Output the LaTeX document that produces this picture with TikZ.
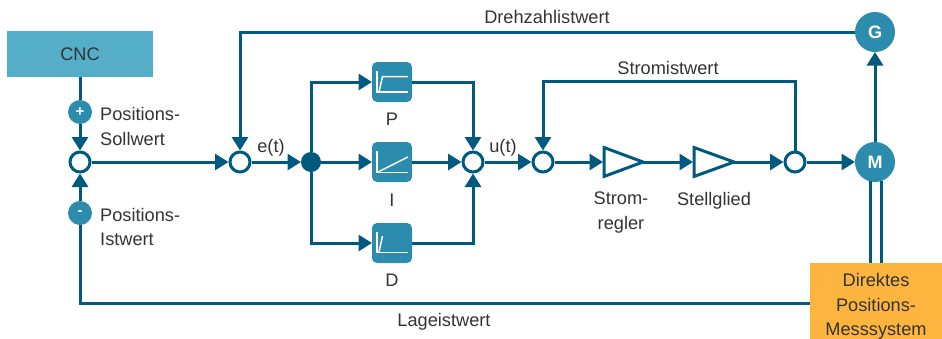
\documentclass[tikz,border=0pt]{standalone}
\usepackage{fontspec}
\setmainfont{Liberation Sans}
\usetikzlibrary{arrows.meta}
\definecolor{dk}{HTML}{005A80}
\definecolor{md}{HTML}{2B8CAE}
\definecolor{cn}{HTML}{54AEC8}
\definecolor{og}{HTML}{FDB53F}
\definecolor{tx}{HTML}{333333}
\tikzset{
  x=1pt,y=-1pt,
  wire/.style={draw=dk,line width=3pt},
  flow/.style={wire,-{Triangle[length=13.5pt,width=16pt]}},
  sumnode/.style={circle,draw=dk,line width=3pt,fill=white,minimum size=20pt,inner sep=0pt},
  dotnode/.style={circle,fill=dk,minimum size=20pt,inner sep=0pt,outer sep=0pt},
  signnode/.style={circle,fill=md,minimum size=24pt,inner sep=0pt,outer sep=0pt,text=white,font=\fontsize{15}{15}\selectfont\bfseries},
  machine/.style={circle,fill=md,minimum size=40pt,inner sep=0pt,outer sep=0pt,text=white,font=\fontsize{18}{18}\selectfont\bfseries},
  pidbox/.style={rectangle,fill=md,rounded corners=5pt,minimum size=40pt,inner sep=0pt,outer sep=0pt},
  lbl/.style={text=tx,inner sep=0pt,font=\fontsize{18.2}{24.5}\selectfont},
  icon/.style={draw=white,line width=1.5pt},
  amp/.style={draw=dk,line width=3pt,fill=white,line join=miter},
}
\begin{document}
\begin{tikzpicture}
\useasboundingbox (0,0) rectangle (942,338);
% nodes
\node[rectangle,fill=cn,minimum width=146pt,minimum height=46pt,inner sep=0pt,outer sep=0pt,lbl] (cnc) at (80,54) {CNC};
\node[signnode] (plus) at (80,112) {+};
\node[sumnode] (s1) at (80,162) {};
\node[signnode] (minus) at (80,213) {-};
\node[sumnode] (s2) at (240,162) {};
\node[dotnode] (dot) at (311,162) {};
\node[pidbox] (P) at (392,82) {};
\node[pidbox] (I) at (392,162) {};
\node[pidbox] (D) at (392,243) {};
\node[sumnode] (s3) at (473,162) {};
\node[sumnode] (s4) at (543,162) {};
\node[sumnode] (s5) at (795,162) {};
\node[machine] (M) at (875,162) {M};
\node[machine] (G) at (875,32) {G};
\node[rectangle,fill=og,minimum width=132pt,minimum height=87pt,inner sep=0pt,outer sep=0pt,lbl,align=center] (og) at (876,306.5) {Direktes\\Positions-\\Messsystem};
% helper coordinates
\coordinate (a1w) at (603,162); \coordinate (a1e) at (643,162);
\coordinate (a2w) at (693,162); \coordinate (a2e) at (734,162);
\coordinate (st5) at (795,81); \coordinate (st4) at (543,81);
\coordinate (lg) at (810,303);
\coordinate (m1) at (870,181); \coordinate (o1) at (870,263);
\coordinate (m2) at (881,181); \coordinate (o2) at (881,263);
% amplifiers
\draw[amp] (604,147.5) -- (a1e) -- (604,176.5) -- cycle;
\draw[amp] (694,147.5) -- (a2e) -- (694,176.5) -- cycle;
% connectors
\draw[wire] (cnc) -- (plus);
\draw[flow] (plus) -- (s1);
\draw[flow] (minus) -- (s1);
\draw[wire] (lg) -| (minus);
\draw[flow] (s1) -- (s2);
\draw[flow] (G) -| (s2);
\draw[flow] (s2) -- (dot);
\draw[flow] (dot) |- (P);
\draw[flow] (dot) -- (I);
\draw[flow] (dot) |- (D);
\draw[flow] (P) -| (s3);
\draw[flow] (I) -- (s3);
\draw[flow] (D) -| (s3);
\draw[flow] (s3) -- (s4);
\draw[flow] (s4) -- (a1w);
\draw[flow] (a1e) -- (a2w);
\draw[flow] (a2e) -- (s5);
\draw[flow] (s5) -- (M);
\draw[flow] (s5) -- (st5) -- (st4) -- (s4);
\draw[flow] (M) -- (G);
\draw[wire] (m1) -- (o1);
\draw[wire] (m2) -- (o2);
% icons
\draw[icon] (377,71) -- (377,92) -- (408,92);
\draw[icon] (379,92) -- (382.5,76.5) -- (408,76.5);
\draw[icon] (377,151) -- (377,172.5) -- (408,172.5);
\draw[icon] (378,172) -- (408,157);
\draw[icon] (377,232) -- (377,252.5) -- (408,252.5);
\draw[icon] (379,252) -- (382.5,236);
% labels
\node[lbl,anchor=west,align=left] (t1) at (100,126.5) {Positions-\\Sollwert};
\node[lbl,anchor=west,align=left] (t2) at (100,227) {Positions-\\Istwert};
\node[lbl] (t3) at (271,148) {e(t)};
\node[lbl] (t4) at (503,148) {u(t)};
\node[lbl] (t5) at (392,119) {P};
\node[lbl] (t6) at (392,200) {I};
\node[lbl] (t7) at (392,280) {D};
\node[lbl,align=center] (t8) at (621,212.5) {Strom-\\regler};
\node[lbl] (t9) at (714,200.5) {Stellglied};
\node[lbl] (t10) at (668,68) {Stromistwert};
\node[lbl] (t11) at (547,17) {Drehzahlistwert};
\node[lbl] (t12) at (444,321.5) {Lageistwert};
\end{tikzpicture}
\end{document}
